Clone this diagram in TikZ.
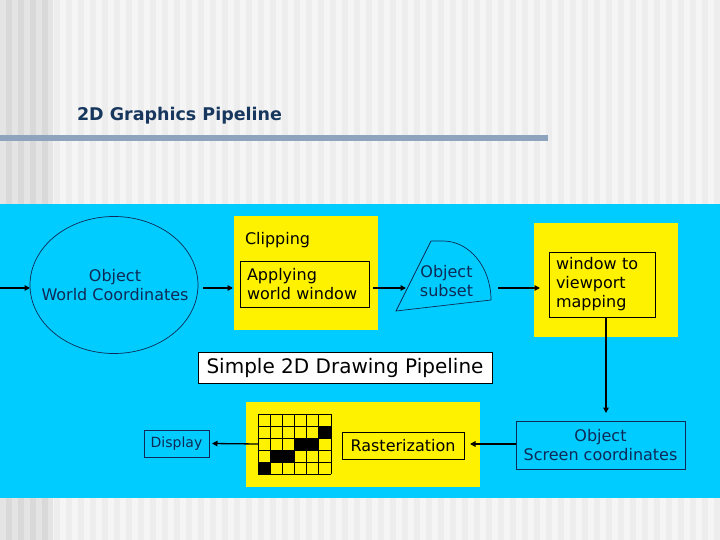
\documentclass[tikz,border=0pt]{standalone}
\usepackage{fontspec}
\setmainfont{DejaVu Sans}
\usetikzlibrary{shapes.geometric,arrows.meta}
\definecolor{cyanbg}{HTML}{00CCFF}
\definecolor{navy}{HTML}{0E2A56}
\definecolor{titlenavy}{HTML}{17375E}
\definecolor{barblue}{HTML}{8EA4BE}
\definecolor{stripeA}{HTML}{F5F5F5}
\definecolor{stripeB}{HTML}{EDEDED}
\definecolor{stripeC}{HTML}{E4E4E4}
\definecolor{stripeD}{HTML}{D9D9D9}
\begin{document}
\begin{tikzpicture}[x=1pt,y=-1pt,
  every node/.style={inner sep=0pt, outer sep=0pt},
  txt/.style={font=\fontsize{16}{19}\selectfont},
  arr/.style={line width=1.3pt, -{Triangle[length=5.5pt,width=5.5pt]}},
  ybox/.style={fill=yellow},
  kbox/.style={draw=black, line width=0.8pt},
  nbox/.style={draw=navy, line width=0.8pt, text=navy}]
\useasboundingbox (0,0) rectangle (720,540);
% background stripes
\fill[stripeA] (0,0) rectangle (720,540);
\foreach \i in {0,...,59} {\fill[stripeB] ({\i*12+6},0) rectangle ({\i*12+12},540);}
\fill[stripeC] (0,0) rectangle (53,540);
\foreach \i in {0,...,3} {\fill[stripeD] ({\i*12+6},0) rectangle ({\i*12+12},540);}
\fill[barblue] (0,135) rectangle (548,141);
\fill[cyanbg] (0,204) rectangle (720,498);
% title
\node[anchor=base west, text=titlenavy, font=\fontsize{17.5}{20}\selectfont\bfseries] (title) at (77,121) {2D Graphics Pipeline};
% ellipse
\node[ellipse, draw=navy, line width=0.7pt, minimum width=168pt, minimum height=137pt] (ell) at (114,285) {};
\node[txt, text=navy, align=center] (elltxt) at (115,285.5) {Object\\World Coordinates};
% clipping
\node[ybox, minimum width=144pt, minimum height=114pt] (clip) at (306,273) {};
\node[txt, anchor=west] (cliplab) at (245,240) {Clipping};
\node[kbox, txt, minimum width=129pt, minimum height=46pt, text width=115pt, align=left] (apply) at (304.5,284) {Applying\\world window};
% object subset
\draw[navy, line width=0.7pt] (431,241) -- (443,241) .. controls (469.5,241) and (491,267.4) .. (491,300) -- (396,311) -- cycle;
\node[txt, text=navy, align=center] (subset) at (446.5,281.5) {Object\\subset};
% window to viewport
\node[ybox, minimum width=144pt, minimum height=114pt] (win) at (606,280) {};
\node[kbox, txt, minimum width=106pt, minimum height=65pt, text width=92pt, align=left] (map) at (602,284.5) {window to\\viewport\\mapping};
% simple pipeline
\node[kbox, fill=white, minimum width=294pt, minimum height=31pt, font=\fontsize{20}{24}\selectfont] (simple) at (345,367.5) {Simple 2D Drawing Pipeline};
% screen coordinates
\node[nbox, txt, minimum width=169pt, minimum height=48pt, align=center] (screen) at (600.5,445) {Object\\Screen coordinates};
% raster
\node[ybox, minimum width=234pt, minimum height=85pt] (raster) at (363,444.5) {};
\node[kbox, txt, minimum width=122pt, minimum height=27pt] (rast) at (403,445.5) {Rasterization};
% grid
\node[minimum width=73pt, minimum height=60pt] (grid) at (294.5,444) {};
\fill[yellow] (258,414) rectangle (331,474);
\foreach \c/\r in {5/1,3/2,4/2,1/3,2/3,0/4} {\fill[black] ({258+\c*12.1667},{414+\r*12}) rectangle ++(12.1667,12);}
\foreach \c in {0,...,6} {\draw[line width=0.9pt] ({258+\c*12.1667},414) -- ({258+\c*12.1667},474);}
\foreach \r in {0,...,5} {\draw[line width=0.9pt] (258,{414+\r*12}) -- (331,{414+\r*12});}
% display
\node[nbox, font=\fontsize{14}{17}\selectfont, minimum width=65pt, minimum height=27pt] (disp) at (176.5,443.5) {Display};
% connectors
\coordinate (in) at (0,288);
\coordinate (subL) at (406,288);
\coordinate (subR) at (498,288);
\coordinate (down) at (606,413);
\coordinate (rtip) at (470,444);
\draw[arr] (in) -- (ell.west |- in);
\draw[arr] ([xshift=5pt]ell.east |- in) -- ([xshift=-1pt]clip.west |- in);
\draw[arr] ([xshift=4pt]apply.east |- in) -- (subL);
\draw[arr] (subR) -- ([xshift=6pt]win.west |- subR);
\draw[arr] (map.south -| down) -- (down);
\draw[arr] (screen.west |- rtip) -- (rtip);
\draw[arr] (grid.west) -- ([xshift=3pt]disp.east);
\end{tikzpicture}
\end{document}
